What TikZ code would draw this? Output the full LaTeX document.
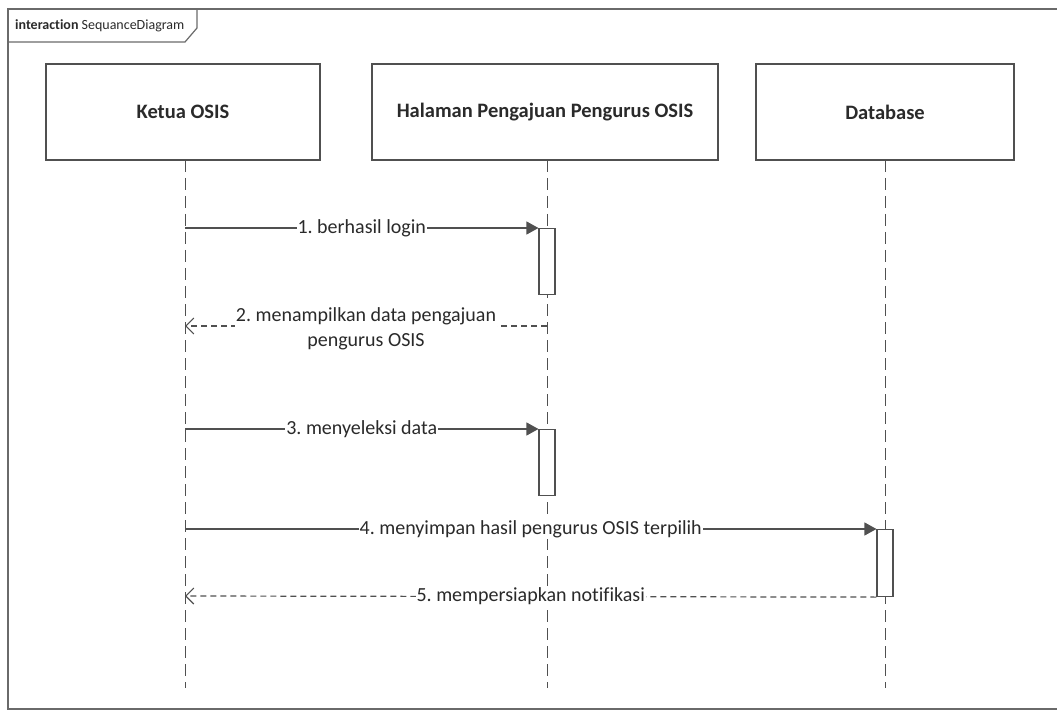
\documentclass[tikz,border=0pt]{standalone}
\usepackage{fontspec}
\setmainfont{Carlito}[Ligatures=NoCommon]
\usetikzlibrary{arrows.meta}
\frenchspacing
\definecolor{linec}{HTML}{505050}
\definecolor{framec}{HTML}{6A6A6A}
\definecolor{textc}{HTML}{2A2A2A}
\tikzset{
  framebox/.style={draw=framec, line width=1.6pt},
  lifebox/.style={draw=linec, line width=1.1pt, fill=white, minimum height=96pt, font=\fontsize{20.5}{24}\selectfont\bfseries, text=textc},
  lifeline/.style={draw=linec, line width=1pt, dash pattern=on 12pt off 6pt},
  actbox/.style={draw=linec, line width=1.1pt, fill=white},
  callmsg/.style={draw=linec, line width=1.1pt, -{Triangle[length=12pt,width=13pt]}},
  retmsg/.style={draw=linec, line width=1.2pt, dash pattern=on 6pt off 4pt, -{Straight Barb[length=8pt,width=16pt,line width=1.1pt]}},
  msglabel/.style={fill=white, inner sep=1pt, text=textc, font=\fontsize{20}{25}\selectfont, align=center},
}
\begin{document}
\begin{tikzpicture}[x=1pt,y=-1pt]
\useasboundingbox (0,0) rectangle (1057,711);
% frame
\draw[framebox] (1060,9) -- (8,9) -- (8,709) -- (1060,709);
\draw[framebox, line width=1.2pt] (8,42) -- (185,42) -- (197,28) -- (197,9);
\node[anchor=west, text=textc, font=\fontsize{14}{16}\selectfont, inner sep=0pt] (framelabel) at (15,26) {\textbf{interaction} SequanceDiagram};
% lifeline heads
\node[lifebox, minimum width=274pt] (ketua) at (183,112) {Ketua OSIS};
\node[lifebox, minimum width=346pt] (halaman) at (545,112) {Halaman Pengajuan Pengurus OSIS};
\node[lifebox, minimum width=258pt] (db) at (885,112) {Database};
% lifelines
\coordinate (k0) at (185,160); \coordinate (k1) at (185,688);
\coordinate (h0) at (547,160); \coordinate (h1) at (547,688);
\coordinate (d0) at (885,160); \coordinate (d1) at (885,688);
\draw[lifeline] (k0) -- (k1);
\draw[lifeline] (h0) -- (h1);
\draw[lifeline] (d0) -- (d1);
% activations
\node[actbox, minimum width=16pt, minimum height=66pt, inner sep=0pt, anchor=north] (act1) at (547,228) {};
\node[actbox, minimum width=16pt, minimum height=66pt, inner sep=0pt, anchor=north] (act2) at (547,429) {};
\node[actbox, minimum width=16pt, minimum height=67pt, inner sep=0pt, anchor=north] (act3) at (885,529) {};
% messages
\coordinate (m1s) at (185,228);
\draw[callmsg] (m1s) -- (act1.north west) node[msglabel, midway] (l1) {1. berhasil login};
\coordinate (m2s) at (547,326);
\coordinate (m2e) at (185,326);
\draw[retmsg] (m2s) -- (m2e);
\node[msglabel] (l2) at (366,329) {2. menampilkan data pengajuan\\pengurus OSIS};
\coordinate (m3s) at (185,429);
\draw[callmsg] (m3s) -- (act2.north west) node[msglabel, midway] (l3) {3. menyeleksi data};
\coordinate (m4s) at (185,529);
\draw[callmsg] (m4s) -- (act3.north west) node[msglabel, midway] (l4) {4. menyimpan hasil pengurus OSIS terpilih};
\coordinate (m5e) at (185,596);
\draw[retmsg] (act3.south west) -- (m5e) node[msglabel, midway] (l5) {5. mempersiapkan notifikasi};
\end{tikzpicture}
\end{document}
